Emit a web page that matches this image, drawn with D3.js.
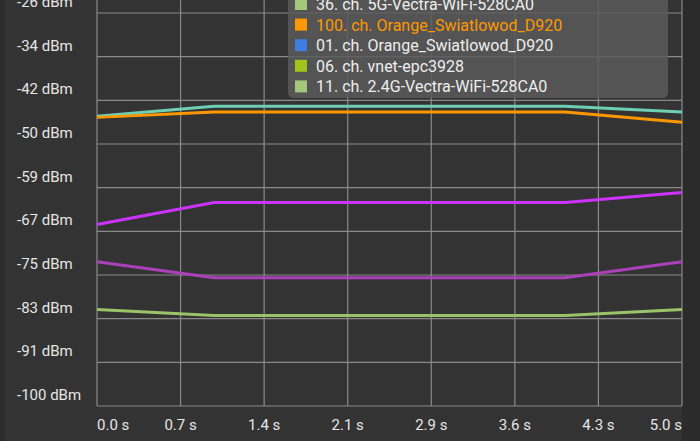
<!DOCTYPE html>
<html>
<head>
  <script src="https://cdn.jsdelivr.net/npm/d3@7"></script>
  <style>
    body { margin: 0; background: #000; }
    svg { display: block; }
  </style>
</head>
<body>
<script>
  // data
  const times = [0, 1, 2, 3, 4, 5];
  const seriesNames = ["teal", "orange", "magenta", "purple", "green"];
  const seriesColors = ["#6fcfb4", "#ff9800", "#cc33ff", "#ab40b8", "#9cc36a"];
  const seriesValues = [
    [-45.6, -43.7, -43.7, -43.7, -43.7, -44.8],
    [-45.8, -44.8, -44.8, -44.8, -44.8, -46.7],
    [-65.9, -61.8, -61.8, -61.8, -61.8, -59.9],
    [-72.9, -75.9, -75.9, -75.9, -75.9, -72.9],
    [-81.9, -83.0, -83.0, -83.0, -83.0, -81.9]
  ];
  const yTickLabels = ["-100 dBm", "-91 dBm", "-83 dBm", "-75 dBm", "-67 dBm", "-59 dBm", "-50 dBm", "-42 dBm", "-34 dBm", "-26 dBm"];
  const xTickLabels = ["0.0 s", "0.7 s", "1.4 s", "2.1 s", "2.9 s", "3.6 s", "4.3 s", "5.0 s"];
  const legendNames = ["36. ch. 5G-Vectra-WiFi-528CA0", "100. ch. Orange_Swiatlowod_D920", "01. ch. Orange_Swiatlowod_D920", "06. ch. vnet-epc3928", "11. ch. 2.4G-Vectra-WiFi-528CA0"];
  const legendColors = ["#a5c97a", "#ff9800", "#3b7de0", "#a0c41c", "#a4c67a"];

  const w = 700, h = 441;
  const mLeft = 97, mRight = 682, mTop = 13, mBottom = 406;

  const svg = d3.select("body").append("svg").attr("width", w).attr("height", h);
  svg.append("rect").attr("width", w).attr("height", h).attr("fill", "#2b2b2b");
  svg.append("rect").attr("x", 5).attr("width", 677).attr("height", h).attr("fill", "#333333");

  const yMin = -100, yMax = -26.2;
  const yScale = d3.scaleLinear().domain([yMin, yMax]).range([mBottom, mTop]);
  const xScale = d3.scaleLinear().domain([0, 5]).range([mLeft, mRight]);

  const yTicks = yTickLabels.map((d, i) => yMin + i * (yMax - yMin) / (yTickLabels.length - 1));
  const xTicks = xTickLabels.map((d, i) => i * 5 / (xTickLabels.length - 1));

  // grid
  const grid = svg.append("g").attr("stroke", "#8a8a8a").attr("stroke-width", 1.2);
  grid.selectAll("line.h").data(yTicks).enter().append("line").attr("class", "h")
    .attr("x1", mLeft).attr("x2", mRight)
    .attr("y1", d => yScale(d)).attr("y2", d => yScale(d));
  grid.selectAll("line.v").data(xTicks).enter().append("line").attr("class", "v")
    .attr("y1", 0).attr("y2", mBottom)
    .attr("x1", d => xScale(d)).attr("x2", d => xScale(d));

  // labels
  svg.selectAll("text.y").data(yTicks).enter().append("text").attr("class", "y")
    .attr("x", 17).attr("y", d => yScale(d) - 6)
    .attr("font-family", "Roboto").attr("font-size", "15px").attr("fill", "#e6e6e6")
    .text((d, i) => yTickLabels[i]);
  svg.selectAll("text.x").data(xTicks).enter().append("text").attr("class", "x")
    .attr("x", d => xScale(d)).attr("y", 430)
    .attr("text-anchor", (d, i) => i === 0 ? "start" : (i === xTicks.length - 1 ? "end" : "middle"))
    .attr("font-family", "Roboto").attr("font-size", "15px").attr("fill", "#e6e6e6")
    .text((d, i) => xTickLabels[i]);

  // lines
  const line = d3.line().x((d, i) => xScale(times[i])).y(d => yScale(d));
  svg.selectAll("path.s").data(seriesValues).enter().append("path").attr("class", "s")
    .attr("d", line).attr("fill", "none")
    .attr("stroke", (d, i) => seriesColors[i]).attr("stroke-width", 3);

  // legend
  const lg = svg.append("g");
  lg.append("rect").attr("x", 288).attr("y", -60).attr("width", 380).attr("height", 158)
    .attr("rx", 5).attr("fill", "#5a5a5a").attr("fill-opacity", 0.85);
  const rows = lg.selectAll("g.row").data(legendNames).enter().append("g").attr("class", "row")
    .attr("transform", (d, i) => "translate(0," + (4 + i * 20.6) + ")");
  rows.append("rect").attr("x", 295).attr("y", -6).attr("width", 12).attr("height", 12)
    .attr("fill", (d, i) => legendColors[i]);
  rows.append("text").attr("x", 316).attr("y", 6)
    .attr("font-family", "Roboto").attr("font-size", "16px")
    .attr("fill", (d, i) => i === 1 ? "#ff9800" : "#eeeeee")
    .text(d => d);
</script>
</body>
</html>
